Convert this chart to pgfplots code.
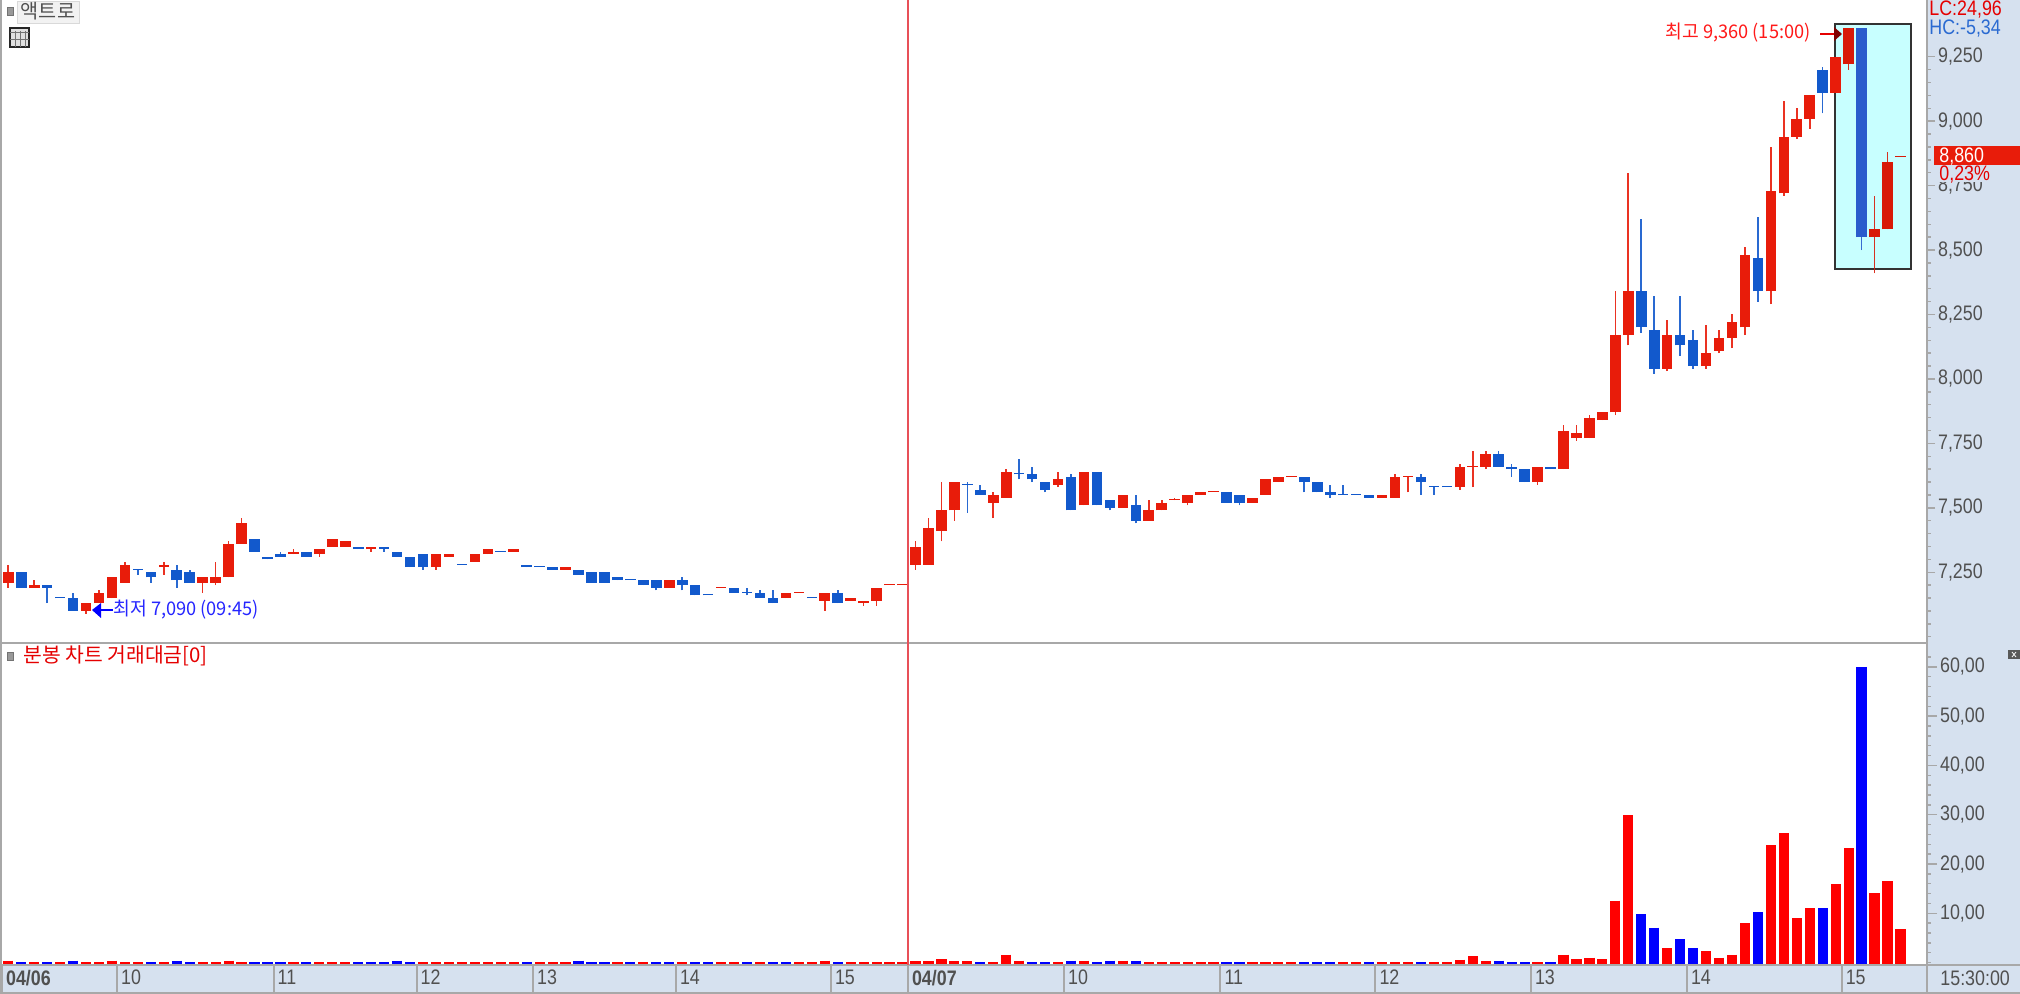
\documentclass[border=0pt]{standalone}
\usepackage{fontspec}
\usepackage{pgfplots}
\usepackage{pgfplotstable}
\pgfplotsset{compat=1.18}
\setmainfont{Liberation Sans}
\newfontfamily\num[FakeStretch=0.85]{Liberation Sans}
\newfontfamily\kr{Noto Sans CJK KR}
\newfontfamily\krn[FakeStretch=0.97]{Noto Sans CJK KR}
\definecolor{strip}{HTML}{D6E1EF}
\definecolor{cred}{HTML}{E81C0A}
\definecolor{cblue}{HTML}{1259CC}
\definecolor{bred}{HTML}{D81A08}
\definecolor{bblue}{HTML}{2A5CCC}
\definecolor{lbl}{HTML}{505050}
\definecolor{rule}{HTML}{A8A8A8}
\definecolor{boxcyan}{HTML}{C8FFFF}
\definecolor{dayline}{HTML}{E85058}
% i top bot high low
\pgfplotstableread{
i top bot high low
0 7250 7210 7280 7190
2 7200 7190 7220 7190
6 7130 7100 7130 7090
7 7170 7130 7180 7130
8 7230 7150 7230 7150
9 7280 7210 7290 7210
12 7280 7270 7290 7240
15 7230 7210 7230 7170
16 7230 7210 7290 7200
17 7360 7230 7370 7230
18 7440 7360 7460 7360
22 7330 7320 7340 7320
24 7340 7320 7340 7310
25 7380 7350 7380 7350
26 7370 7350 7370 7350
28 7350 7340 7350 7330
33 7320 7270 7320 7260
34 7320 7310 7320 7310
36 7320 7290 7320 7290
37 7340 7320 7340 7320
39 7340 7330 7340 7330
43 7270 7260 7270 7260
51 7220 7190 7220 7190
55 7190 7190 7190 7190
60 7170 7150 7170 7150
61 7170 7170 7170 7170
63 7170 7140 7170 7100
65 7150 7140 7150 7140
66 7140 7130 7140 7120
67 7190 7140 7190 7120
68 7200 7200 7200 7200
69 7200 7200 7200 7200
70 7350 7280 7370 7260
71 7420 7280 7460 7280
72 7490 7410 7600 7370
73 7600 7490 7600 7450
76 7550 7520 7560 7460
77 7640 7540 7650 7540
81 7610 7590 7640 7580
83 7640 7510 7640 7510
86 7550 7500 7550 7500
88 7490 7450 7530 7450
89 7520 7490 7530 7490
90 7530 7530 7540 7530
91 7550 7520 7550 7510
92 7560 7550 7560 7550
93 7560 7560 7560 7560
96 7540 7520 7540 7520
97 7610 7550 7610 7550
98 7620 7600 7620 7600
99 7620 7620 7620 7620
106 7550 7540 7550 7540
107 7620 7540 7630 7540
108 7620 7620 7620 7560
112 7660 7580 7670 7570
113 7660 7660 7720 7580
114 7710 7660 7720 7650
118 7660 7600 7660 7590
120 7800 7650 7820 7650
121 7790 7770 7820 7760
122 7850 7770 7860 7770
123 7870 7840 7870 7840
124 8170 7870 8340 7860
125 8340 8170 8800 8130
128 8170 8040 8230 8030
131 8100 8050 8210 8040
132 8160 8110 8190 8100
133 8220 8160 8250 8120
134 8480 8200 8510 8170
136 8730 8340 8900 8290
137 8940 8720 9080 8710
138 9010 8940 9050 8930
139 9100 9010 9100 8970
141 9250 9110 9250 9110
}\redT
\pgfplotstableread{
i top bot high low
1 7250 7190 7250 7190
3 7200 7190 7200 7130
4 7150 7150 7150 7150
5 7150 7100 7170 7100
10 7260 7260 7260 7240
11 7250 7230 7250 7210
13 7260 7220 7280 7190
14 7250 7210 7260 7210
19 7380 7330 7380 7330
20 7310 7300 7310 7300
21 7320 7310 7330 7310
23 7330 7310 7330 7310
27 7350 7340 7350 7340
29 7350 7340 7350 7330
30 7330 7310 7330 7310
31 7310 7270 7310 7270
32 7320 7270 7320 7260
35 7280 7280 7280 7280
38 7330 7330 7330 7330
40 7280 7270 7280 7270
41 7270 7270 7270 7270
42 7270 7260 7270 7260
44 7260 7240 7260 7240
45 7250 7210 7250 7210
46 7250 7210 7250 7210
47 7230 7220 7230 7220
48 7220 7220 7220 7220
49 7220 7200 7220 7200
50 7220 7190 7220 7180
52 7220 7200 7230 7180
53 7200 7160 7200 7160
54 7160 7160 7160 7160
56 7190 7170 7190 7170
57 7170 7170 7190 7160
58 7170 7150 7180 7150
59 7150 7130 7180 7130
62 7150 7150 7150 7150
64 7170 7130 7180 7130
74 7590 7590 7600 7480
75 7570 7550 7590 7550
78 7630 7630 7690 7610
79 7630 7610 7660 7600
80 7600 7570 7600 7560
82 7620 7490 7630 7490
84 7640 7510 7640 7510
85 7530 7500 7530 7490
87 7510 7450 7550 7440
94 7560 7520 7560 7520
95 7550 7520 7550 7510
100 7620 7600 7620 7560
101 7600 7560 7600 7560
102 7560 7550 7590 7540
103 7550 7550 7590 7550
104 7550 7550 7550 7550
105 7550 7540 7550 7540
109 7620 7600 7630 7550
110 7580 7580 7580 7550
111 7580 7580 7580 7580
115 7710 7660 7720 7660
116 7660 7650 7670 7620
117 7650 7600 7650 7600
119 7660 7650 7660 7650
126 8340 8200 8620 8180
127 8190 8040 8320 8020
129 8170 8130 8320 8090
130 8150 8050 8190 8040
135 8470 8340 8630 8300
140 9200 9110 9210 9030
}\blueT
\pgfplotstableread{
i top bot high low
142 9360 9220 9360 9200
144 8580 8550 8710 8410
145 8840 8580 8880 8580
146 8860 8860 8860 8860
}\boxredT
\pgfplotstableread{
i top bot high low
143 9360 8550 9360 8500
}\boxblueT
% volume
\pgfplotstableread{
i v
0 0.4
2 0.1
4 0.1
6 0.1
7 0.1
8 0.4
9 0.1
10 0.1
12 0.1
15 0.1
16 0.1
17 0.4
18 0.1
22 0.1
24 0.1
25 0.1
26 0.1
32 0.1
33 0.1
34 0.1
35 0.1
36 0.1
37 0.1
38 0.1
39 0.1
41 0.1
42 0.1
43 0.1
47 0.1
49 0.1
52 0.1
55 0.1
56 0.1
58 0.1
61 0.1
62 0.1
63 0.4
65 0.1
66 0.1
67 0.1
68 0.1
69 0.1
70 0.3
71 0.3
72 0.65
73 0.3
74 0.3
76 0.1
77 1.6
78 0.4
81 0.1
83 0.4
86 0.4
88 0.1
89 0.1
90 0.1
91 0.1
92 0.1
93 0.1
96 0.1
97 0.1
98 0.1
99 0.1
103 0.1
104 0.1
106 0.1
107 0.1
108 0.1
110 0.1
111 0.1
112 0.6
113 1.3
114 0.4
118 0.1
120 1.6
121 0.7
122 1.0
123 0.7
124 12.6
125 29.9
128 2.9
131 2.3
132 1.0
133 1.6
134 8.0
136 23.8
137 26.2
138 9.0
139 11.0
141 15.9
142 23.2
144 14.1
145 16.5
146 6.8
}\redV
\pgfplotstableread{
i v
1 0.1
3 0.1
5 0.4
11 0.1
13 0.4
14 0.1
19 0.1
20 0.1
21 0.1
23 0.1
27 0.1
28 0.1
29 0.1
30 0.4
31 0.1
40 0.1
44 0.4
45 0.1
46 0.1
48 0.1
50 0.1
51 0.1
53 0.1
54 0.1
57 0.1
59 0.1
60 0.1
64 0.1
75 0.1
79 0.1
80 0.1
82 0.4
84 0.1
85 0.4
87 0.4
94 0.1
95 0.1
100 0.1
101 0.1
102 0.1
105 0.1
109 0.1
115 0.4
116 0.1
117 0.1
119 0.1
126 9.8
127 7.1
129 4.7
130 2.9
135 10.2
140 11.0
143 60.0
}\blueV
\pgfplotsset{
 candle/.style n args={3}{draw=none,no markers,forget plot,
   error bars/.cd,y dir=plus,y explicit,error mark=none,
   error bar style={line width=#2,draw=#1,line cap=butt,opacity=#3}},
 vol/.style={draw=none,no markers,forget plot,
   error bars/.cd,y dir=minus,y explicit,error mark=none,
   error bar style={line width=5.1pt,draw=#1,line cap=butt}},
}
\newcommand{\candles}[2]{%
 \addplot[candle={#2}{0.8pt}{0.9}] table[x=i,y=low,y error plus expr={\thisrow{high}-\thisrow{low}}] {#1};
 \addplot[candle={#2}{5.3pt}{1}] table[x=i,y=bot,y error plus expr={max(\thisrow{top}-\thisrow{bot},4)}] {#1};
}
\begin{document}
\begin{tikzpicture}[x=0.5pt,y=-0.5pt]
\useasboundingbox (0,0) rectangle (2020,994);
\fill[strip] (0,0) rectangle (2020,994);
\fill[white] (2,0) rectangle (1927,965);
% highlighted box
\filldraw[fill=boxcyan,draw=black!80,line width=1pt] (1835,24) rectangle (1910.5,269.5);
\begin{axis}[name=top,at={(1pt,-321.5pt)},anchor=south west,scale only axis,
  width=962.5pt,height=321.5pt,
  xmin=-0.486,xmax=148.05,ymin=6975.7,ymax=9470,
  axis x line=none,axis y line*=right,
  axis line style={draw=rule,line width=1pt,-},
  clip=true,
  ytick={7250,7500,7750,8000,8250,8500,8750,9000,9250},
  yticklabels={7{,}250,7{,}500,7{,}750,8{,}000,8{,}250,8{,}500,8{,}750,9{,}000,9{,}250},
  minor ytick={7000,7050,7100,7150,7200,7300,7350,7400,7450,7550,7600,7650,7700,7800,7850,7900,7950,8050,8100,8150,8200,8300,8350,8400,8450,8550,8600,8650,8700,8800,8850,8900,8950,9050,9100,9150,9200},
  tick align=outside,
  major tick length=4pt,minor tick length=1.8pt,
  ytick style={draw=rule,line width=0.7pt},
  minor y tick style={draw=rule,line width=0.7pt},
  yticklabel style={font=\num\fontsize{10.5}{12}\selectfont,text=lbl,anchor=west,xshift=-2pt},
]
\candles{\redT}{cred}
\candles{\blueT}{cblue}
\candles{\boxredT}{bred}
\candles{\boxblueT}{bblue}
\end{axis}
\begin{axis}[name=bot,at={(1pt,-482.5pt)},anchor=south west,scale only axis,
  width=962.5pt,height=160pt,
  xmin=-0.486,xmax=148.05,ymin=-0.487,ymax=64.44,
  axis x line=bottom,axis y line*=right,
  axis line style={draw=rule,line width=1pt,-},
  xtick={-0.48,8.39,20.47,31.50,40.49,51.52,63.48,69.42,81.46,93.53,105.49,117.49,129.53,141.47},
  xticklabels={\textbf{04/06},10,11,12,13,14,15,\textbf{04/07},10,11,12,13,14,15},
  xtick style={draw=rule,line width=1pt,/pgfplots/major tick length=13.5pt},
  xticklabel style={font=\num\fontsize{10.5}{12}\selectfont,text=lbl,anchor=north west,xshift=-1.5pt,yshift=6pt},
  ytick={10,20,30,40,50,60},
  yticklabels={10{,}00,20{,}00,30{,}00,40{,}00,50{,}00,60{,}00},
  minor ytick={0,2,4,6,8,12,14,16,18,22,24,26,28,32,34,36,38,42,44,46,48,52,54,56,58,62},
  tick align=outside,
  major tick length=5pt,minor tick length=1.8pt,
  ytick style={draw=rule,line width=0.7pt},
  minor y tick style={draw=rule,line width=0.7pt},
  yticklabel style={font=\num\fontsize{10.5}{12}\selectfont,text=lbl,anchor=west,xshift=-2pt},
]
\addplot[vol=red] table[x=i,y=v,y error minus expr={\thisrow{v}+0.3}] {\redV};
\addplot[vol=blue] table[x=i,y=v,y error minus expr={\thisrow{v}+0.3}] {\blueV};
\end{axis}
% frame rules
\draw[rule,line width=1pt] (1,0) -- (1,994);
\draw[rule,line width=1pt] (0,643) -- (1927,643);
\draw[rule,line width=1pt] (0,965) -- (2020,965);
\draw[rule,line width=1pt] (0,992.5) -- (2020,992.5);
\draw[rule,line width=1pt] (1927,965) -- (1927,992);
\draw[rule,line width=1pt] (1927,0) -- (1927,965);
% day separator
\draw[dayline,line width=0.65pt] (908,0) -- (908,965);
% header
\filldraw[fill=black!40,draw=black!55,line width=0.4pt] (7,7) rectangle (13,15);
\filldraw[fill=black!5,draw=black!15,line width=0.4pt] (17,1) rectangle (79,23);
\node[font=\kr\fontsize{9.8}{11}\selectfont,text=lbl] at (48,11.5) {액트로};
\draw[black!85,fill=black!12,line width=0.8pt] (10,28) rectangle (29,47);
\foreach \x in {15,20,25} \draw[black!55,line width=0.5pt] (\x,31) -- (\x,47);
\draw[black!55,line width=0.5pt] (10,33) -- (29,33);
\draw[black!55,line width=0.5pt] (10,40) -- (29,40);
% volume panel header
\filldraw[fill=black!40,draw=black!55,line width=0.4pt] (7,652) rectangle (13,660);
\node[font=\kr\fontsize{10.2}{12}\selectfont,text=red!90!black,anchor=west,inner sep=0pt] at (23,656) {분봉 차트 거래대금[0]};
\fill[black!65] (2008,650) rectangle (2020,659);
\draw[white,line width=0.4pt] (2012,652) -- (2016,657) (2016,652) -- (2012,657);
% annotations
\node[font=\krn\fontsize{9.4}{11}\selectfont,text=blue!85!white,anchor=west,inner sep=0pt] at (113,609.5) {최저 7,090 (09:45)};
\draw[blue,line width=0.7pt] (98,610) -- (113,610);
\fill[blue] (92,610) -- (101,603) -- (101,618) -- cycle;
\node[font=\krn\fontsize{9.4}{11}\selectfont,text=red!90!white,anchor=east,inner sep=0pt] at (1811,33) {최고 9,360 (15:00)};
\draw[red!90!black,line width=0.7pt] (1820,34) -- (1836,34);
\fill[red!50!black] (1842,34) -- (1834,27) -- (1834,41) -- cycle;
% right-side readings
\node[font=\num\fontsize{10.5}{12}\selectfont,text=red!90!black,anchor=west,inner sep=0pt] at (1929,10) {LC:24,96};
\node[font=\num\fontsize{10.5}{12}\selectfont,text=cblue!90!white,anchor=west,inner sep=0pt] at (1929,29) {HC:-5,34};
\fill[strip] (1934,165) rectangle (2020,182);
\fill[cred] (1934,146) rectangle (2020,165);
\node[font=\num\fontsize{10.5}{12}\selectfont,text=white,anchor=west,inner sep=0pt] at (1939,156.5) {8,860};
\node[font=\num\fontsize{10.5}{12}\selectfont,text=red!90!black,anchor=west,inner sep=0pt] at (1939,174.5) {0,23\%};
\node[font=\num\fontsize{10.5}{12}\selectfont,text=lbl,anchor=west,inner sep=0pt] at (1940,978) {15:30:00};
\end{tikzpicture}
\end{document}
